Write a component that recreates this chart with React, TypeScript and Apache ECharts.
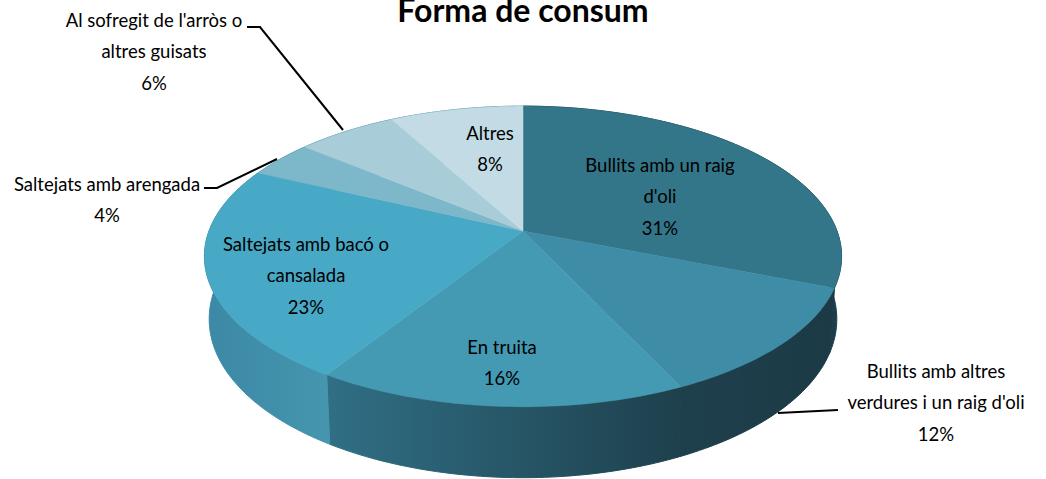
import React, { useEffect, useRef } from "react";
import * as echarts from "echarts";

const titleText = "Forma de consum";
const categories = [
  "Bullits amb un raig\nd'oli",
  "Bullits amb altres\nverdures i un raig d'oli",
  "En truita",
  "Saltejats amb bacó o\ncansalada",
  "Saltejats amb arengada",
  "Al sofregit de l'arròs o\naltres guisats",
  "Altres",
];
const values = [31, 12, 16, 23, 4, 6, 8];
const topColors = ["#337689", "#3e8ca6", "#449ab3", "#48a9c6", "#7cb7ca", "#a9ccd9", "#c3dbe5"];
const sideColors = [
  ["#1c3e4b", "#1c3e4b"],
  ["#1e404c", "#1b3a46"],
  ["#306f85", "#1e404c"],
  ["#3c88a6", "#4596ae"],
  ["#3c88a6", "#3c88a6"],
  ["#3c88a6", "#3c88a6"],
  ["#3c88a6", "#3c88a6"],
];
// label centre x, first-line centre y per slice
const labelPos = [
  [660, 165],
  [936, 371],
  [502, 347],
  [306, 244],
  [107, 184],
  [154, 20],
  [490, 133],
];
const leaders = [
  [[247, 27], [260, 27], [343, 130]],
  [[204, 188], [217, 188], [277, 159]],
  [[778, 413], [838, 410]],
];

const CX = 523, CY = 231, A = 314, B = 146, P = 0.169;
const total = values.reduce((s, v) => s + v, 0);
const startOf = (i: number) => values.slice(0, i).reduce((s, v) => s + v, 0);

function project(frac: number) {
  const t = frac * 2 * Math.PI;
  const u = Math.sin(t), v = -Math.cos(t);
  const w = 1 - P * v;
  return { x: CX + (A * u) / w, y: CY + (B * v) / w, v };
}
function arc(a: number, b: number) {
  const n = Math.max(2, Math.ceil((b - a) * 360));
  const pts: { x: number; y: number; v: number }[] = [];
  for (let k = 0; k <= n; k++) pts.push(project(a + ((b - a) * k) / n));
  return pts;
}
const lower = (p: { x: number; y: number; v: number }) => [CX + (p.x - CX) * 0.985, p.y + 61 + 10 * p.v];

export default function App() {
  const ref = useRef<HTMLDivElement>(null);
  useEffect(() => {
    document.body.style.margin = "0";
    const chart = echarts.init(ref.current!, undefined, { renderer: "svg" });
    const font = "Lato, sans-serif";
    const labels = categories.map((c, i) => ({
      type: "text",
      z: 10,
      x: labelPos[i][0],
      y: labelPos[i][1] - 16,
      style: {
        text: `${c}\n${values[i]}%`,
        font: `18.5px ${font}`,
        fill: "#000",
        align: "center",
        verticalAlign: "top",
        lineHeight: 31.5,
      },
    }));
    const lines = leaders.map((pts) => ({
      type: "polyline",
      z: 9,
      shape: { points: pts },
      style: { stroke: "#000", lineWidth: 2, fill: "none" },
    }));
    chart.setOption({
      animation: false,
      backgroundColor: "#fff",
      graphic: [
        {
          type: "text",
          z: 10,
          x: 523,
          y: 25,
          style: {
            text: titleText,
            font: `bold 32px ${font}`,
            fill: "#000",
            align: "center",
            verticalAlign: "bottom",
          },
        },
        ...labels,
        ...lines,
      ],
      series: [
        {
          type: "custom",
          coordinateSystem: "none",
          z: 1,
          silent: true,
          data: values,
          renderItem: (params: any) => {
            const i = params.dataIndex;
            const pts = arc(startOf(i) / total, startOf(i + 1) / total);
            const top = pts.map((p) => [p.x, p.y]);
            const bottom = pts.map(lower).reverse();
            const [c0, c1] = sideColors[i];
            const grad = new echarts.graphic.LinearGradient(0, 0, 1, 0, [
              { offset: 0, color: c0 },
              { offset: 1, color: c1 },
            ]);
            return {
              type: "polygon",
              shape: { points: [...top, ...bottom] },
              style: { fill: grad, stroke: grad, lineWidth: 1 },
            };
          },
        },
        {
          type: "custom",
          coordinateSystem: "none",
          z: 2,
          silent: true,
          data: values,
          renderItem: (params: any) => {
            const i = params.dataIndex;
            const pts = arc(startOf(i) / total, startOf(i + 1) / total);
            return {
              type: "polygon",
              shape: { points: [[CX, CY], ...pts.map((p) => [p.x, p.y])] },
              style: { fill: topColors[i], stroke: topColors[i], lineWidth: 0.5 },
            };
          },
        },
      ],
    });
    return () => chart.dispose();
  }, []);
  return <div ref={ref} style={{ width: 1046, height: 479 }} />;
}
